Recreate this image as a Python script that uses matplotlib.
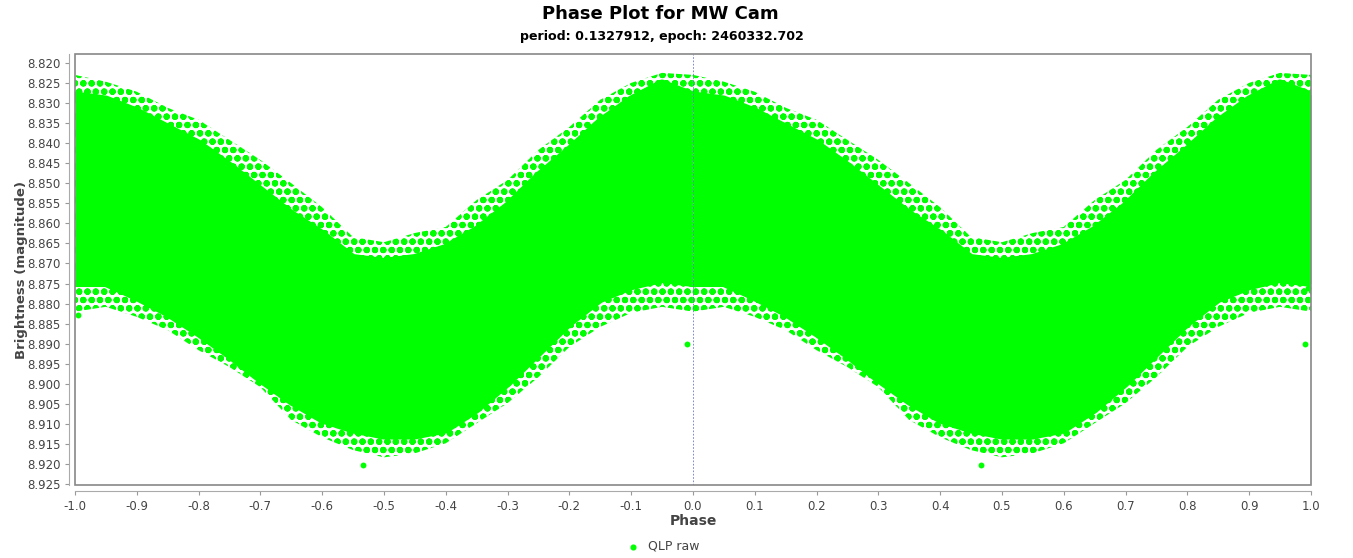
import matplotlib.pyplot as plt
from matplotlib.patches import Rectangle

# one cycle of the light curve (phase 0..1)
phase = [0.00, 0.05, 0.10, 0.15, 0.20, 0.25, 0.30, 0.35, 0.40, 0.45, 0.50,
         0.55, 0.60, 0.65, 0.70, 0.75, 0.80, 0.85, 0.90, 0.95, 1.00]
# outermost scattered points (top = brightest)
top_outer = [8.8230, 8.8247, 8.8272, 8.8312, 8.8342, 8.8392, 8.8442, 8.8500, 8.8560, 8.8634, 8.8647,
             8.8624, 8.8609, 8.8542, 8.8492, 8.8417, 8.8360, 8.8292, 8.8250, 8.8225, 8.8230]
# edge of the dense core
top_core = [8.8280, 8.8290, 8.8320, 8.8360, 8.8400, 8.8455, 8.8515, 8.8575, 8.8625, 8.8685, 8.8695,
            8.8685, 8.8660, 8.8615, 8.8555, 8.8480, 8.8415, 8.8345, 8.8290, 8.8250, 8.8280]
bot_core = [8.8750, 8.8750, 8.8785, 8.8825, 8.8875, 8.8930, 8.8990, 8.9045, 8.9090, 8.9115, 8.9130,
            8.9130, 8.9115, 8.9065, 8.9000, 8.8925, 8.8850, 8.8790, 8.8758, 8.8740, 8.8750]
bot_outer = [8.8820, 8.8808, 8.8833, 8.8866, 8.8916, 8.8958, 8.9008, 8.9090, 8.9133, 8.9165, 8.9183,
             8.9173, 8.9148, 8.9098, 8.9048, 8.8983, 8.8908, 8.8858, 8.8823, 8.8808, 8.8820]

# a few isolated points
out_phase = [-0.01, 0.99, -0.534, 0.466, -0.995, 0.995]
out_mag = [8.8900, 8.8900, 8.9203, 8.9203, 8.8829, 8.8760]

GREEN = "#00ff00"
GREY = "#444444"

plt.rcParams["hatch.linewidth"] = 2.2
plt.rcParams["hatch.color"] = GREEN

fig = plt.figure(figsize=(13.53, 5.58), dpi=100)
ax = fig.add_axes([0.0554, 0.1308, 0.9135, 0.7724])

# the phase plot shows every point twice: at phase and at phase - 1
for shift in (0.0, -1.0):
    x = [p + shift for p in phase]
    ax.fill_between(x, top_outer, bot_outer, facecolor="none", edgecolor=GREEN,
                    hatch="oo", linewidth=0)
    ax.fill_between(x, top_core, bot_core, color=GREEN, linewidth=0)
    ax.plot(x, top_core, color=GREEN, lw=5, solid_joinstyle="round")
    ax.plot(x, bot_core, color=GREEN, lw=5, solid_joinstyle="round")

ax.scatter(out_phase, out_mag, s=18, color=GREEN, linewidths=0, zorder=3)
ax.scatter([], [], s=18, color=GREEN, label="QLP raw")

ax.axvline(0, color="#6b73c9", lw=0.6, ls=(0, (2, 2)), zorder=4)

ax.set_xlim(-1.0, 1.0)
ax.set_ylim(8.9252, 8.8178)
ax.set_xticks([i / 10 for i in range(-10, 11)])
ax.set_xticklabels([f"{i / 10:.1f}" for i in range(-10, 11)])
ax.set_yticks([8.820 + 0.005 * i for i in range(22)])
ax.set_yticklabels([f"{8.820 + 0.005 * i:.3f}" for i in range(22)])
ax.tick_params(labelsize=8.5, labelcolor=GREY, color="#999999", length=3, width=0.8)

for s in ax.spines.values():
    s.set_visible(False)
for side in ("left", "bottom"):
    ax.spines[side].set_visible(True)
    ax.spines[side].set_position(("outward", 4))
    ax.spines[side].set_color("#aaaaaa")
ax.add_patch(Rectangle((0, 0), 1, 1, transform=ax.transAxes, fill=False,
                       edgecolor="#888888", lw=1.2, zorder=5, clip_on=False))

ax.set_xlabel("Phase", fontsize=10, fontweight="bold", color=GREY, labelpad=1)
ax.set_ylabel("Brightness (magnitude)", fontsize=9.5, fontweight="bold", color=GREY, labelpad=-1)

fig.text(0.488, 0.975, "Phase Plot for MW Cam", ha="center", va="center",
         fontsize=13, fontweight="bold")
fig.text(0.489, 0.935, "period: 0.1327912, epoch: 2460332.702", ha="center", va="center",
         fontsize=9.1, fontweight="bold")

fig.legend(loc="center", bbox_to_anchor=(0.488, 0.021), frameon=False, fontsize=9,
           labelcolor=GREY, handletextpad=0.2, markerscale=0.8)

fig.savefig("out.png", dpi=100)
